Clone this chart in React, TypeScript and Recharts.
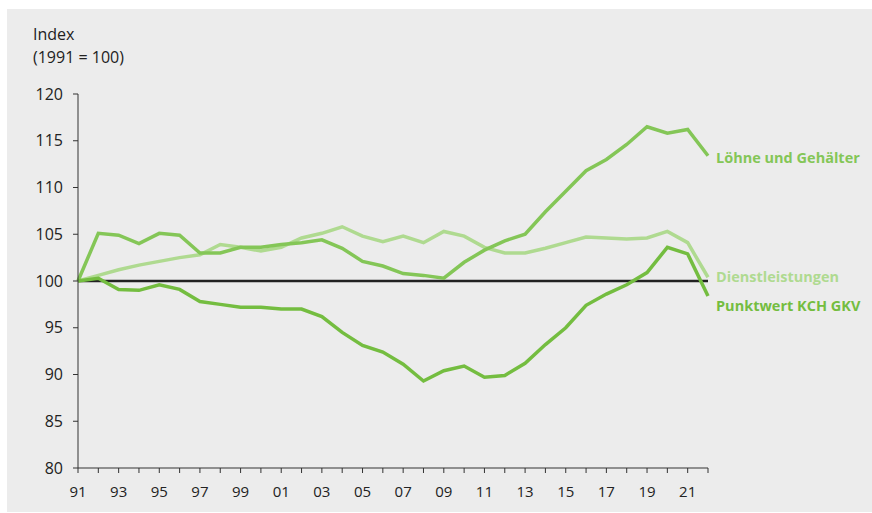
import React from 'react';
import { LineChart, Line, XAxis, YAxis, ReferenceLine, LabelList } from 'recharts';

const years = [1991,1992,1993,1994,1995,1996,1997,1998,1999,2000,2001,2002,2003,2004,2005,2006,2007,2008,2009,2010,2011,2012,2013,2014,2015,2016,2017,2018,2019,2020,2021,2022];
const loehne = [100,105.1,104.9,104.0,105.1,104.9,103.0,103.0,103.6,103.6,103.9,104.1,104.4,103.5,102.1,101.6,100.8,100.6,100.3,102.0,103.3,104.3,105.0,107.4,109.6,111.8,113.0,114.6,116.5,115.8,116.2,113.4];
const dienst = [100,100.6,101.2,101.7,102.1,102.5,102.8,103.9,103.6,103.2,103.6,104.6,105.1,105.8,104.8,104.2,104.8,104.1,105.3,104.8,103.6,103.0,103.0,103.5,104.1,104.7,104.6,104.5,104.6,105.3,104.1,100.4];
const punkt = [100,100.3,99.1,99.0,99.6,99.1,97.8,97.5,97.2,97.2,97.0,97.0,96.2,94.5,93.1,92.4,91.1,89.3,90.4,90.9,89.7,89.9,91.2,93.2,95.0,97.4,98.6,99.6,100.9,103.6,102.9,98.4];
const yTicks = [80,85,90,95,100,105,110,115,120];
const seriesNames = ['Löhne und Gehälter','Dienstleistungen','Punktwert KCH GKV'];

const data = years.map((y, i) => ({ year: y, loehne: loehne[i], dienst: dienst[i], punkt: punkt[i] }));

const FONT = "'Liberation Sans Narrow', 'Open Sans', 'Noto Sans', sans-serif";
const FONT2 = "'Open Sans', 'Noto Sans', sans-serif";

const C_LOEHNE = '#84c657';
const C_DIENST = '#afda90';
const C_PUNKT = '#74bd40';

const makeEndLabel = (name: string, color: string, dy: number) => (props: any) => {
  const { x, y, index } = props;
  if (index !== years.length - 1) return null;
  return (
    <text x={x + 8} y={y + dy} fill={color} fontSize={14.5} fontWeight={700} fontFamily={FONT2} dominantBaseline="central">
      {name}
    </text>
  );
};

export default function App() {
  return (
    <div style={{ position: 'absolute', left: 0, top: 0, width: 872, height: 513, background: '#fff' }}>
      <div style={{ position: 'absolute', left: 7, top: 9, width: 865, height: 503, background: '#ececec' }} />
      <div style={{ position: 'absolute', left: 33, top: 23, fontFamily: FONT2, fontSize: 16, color: '#222', lineHeight: '23px' }}>
        <div>Index</div>
        <div>(1991 = 100)</div>
      </div>
      <div style={{ position: 'absolute', left: 0, top: 0 }}>
        <LineChart width={872} height={513} data={data} margin={{ top: 94, right: 164, bottom: 15, left: 38 }}>
          <XAxis
            dataKey="year"
            type="number"
            domain={[1991, 2022]}
            ticks={years}
            interval={0}
            height={30}
            tickFormatter={(v: number) => (v % 2 === 1 ? String(v).slice(2) : '')}
            tick={{ fill: '#222', fontSize: 15, fontFamily: FONT }}
            tickSize={5}
            tickMargin={13}
            stroke="#333"
          />
          <YAxis
            type="number"
            domain={[80, 120]}
            ticks={yTicks}
            interval={0}
            width={40}
            tick={{ fill: '#222', fontSize: 16, fontFamily: FONT2 }}
            tickSize={5}
            tickMargin={10}
            stroke="#333"
          />
          <ReferenceLine y={100} stroke="#222" strokeWidth={2.5} />
          <Line dataKey="dienst" stroke={C_DIENST} strokeWidth={3.5} dot={false} isAnimationActive={false}>
            <LabelList dataKey="dienst" content={makeEndLabel(seriesNames[1], C_DIENST, -1)} />
          </Line>
          <Line dataKey="loehne" stroke={C_LOEHNE} strokeWidth={3.5} dot={false} isAnimationActive={false}>
            <LabelList dataKey="loehne" content={makeEndLabel(seriesNames[0], C_LOEHNE, 2)} />
          </Line>
          <Line dataKey="punkt" stroke={C_PUNKT} strokeWidth={3.5} dot={false} isAnimationActive={false}>
            <LabelList dataKey="punkt" content={makeEndLabel(seriesNames[2], C_PUNKT, 10)} />
          </Line>
        </LineChart>
      </div>
    </div>
  );
}
